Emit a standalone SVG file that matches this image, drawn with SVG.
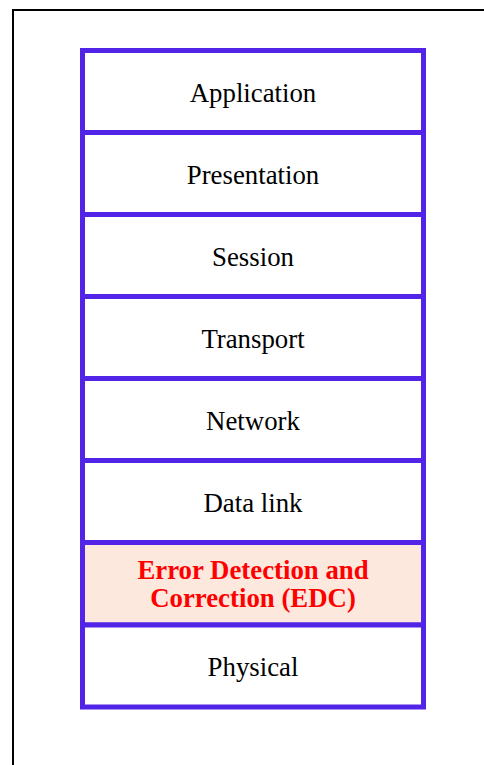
<svg xmlns="http://www.w3.org/2000/svg" width="484" height="765" viewBox="0 0 484 765">
  <style>
    .frame { fill: none; stroke: #000000; stroke-width: 2; }
    .layer rect { fill: #ffffff; stroke: #5124E8; stroke-width: 5; }
    .layer.edc rect { fill: #FCE8DC; }
    .label { font-family: "Liberation Serif", "Times New Roman", serif; font-size: 26.8px; fill: #000000; text-anchor: middle; }
    .edc .label { font-weight: bold; fill: #FF0000; }
  </style>
  <rect width="484" height="765" fill="#ffffff"/>
  <!-- page frame, open to the right and bottom -->
  <rect class="frame" x="13" y="10" width="490" height="780"/>
  <!-- protocol stack, top to bottom -->
  <g id="application" class="layer">
    <rect x="82.5" y="50.5" width="341" height="82"/>
    <text class="label" x="253" y="102">Application</text>
  </g>
  <g id="presentation" class="layer">
    <rect x="82.5" y="132.5" width="341" height="82"/>
    <text class="label" x="253" y="184">Presentation</text>
  </g>
  <g id="session" class="layer">
    <rect x="82.5" y="214.5" width="341" height="82"/>
    <text class="label" x="253" y="266">Session</text>
  </g>
  <g id="transport" class="layer">
    <rect x="82.5" y="296.5" width="341" height="82"/>
    <text class="label" x="253" y="348">Transport</text>
  </g>
  <g id="network" class="layer">
    <rect x="82.5" y="378.5" width="341" height="82"/>
    <text class="label" x="253" y="430">Network</text>
  </g>
  <g id="datalink" class="layer">
    <rect x="82.5" y="460.5" width="341" height="82"/>
    <text class="label" x="253" y="512">Data link</text>
  </g>
  <g id="edc" class="layer edc">
    <rect x="82.5" y="542.5" width="341" height="82.5"/>
    <text class="label" x="253" y="579">Error Detection and</text>
    <text class="label" x="253" y="607">Correction (EDC)</text>
  </g>
  <g id="physical" class="layer">
    <rect x="82.5" y="625" width="341" height="82"/>
    <text class="label" x="253" y="676">Physical</text>
  </g>
  <g id="connectors"/>
</svg>
